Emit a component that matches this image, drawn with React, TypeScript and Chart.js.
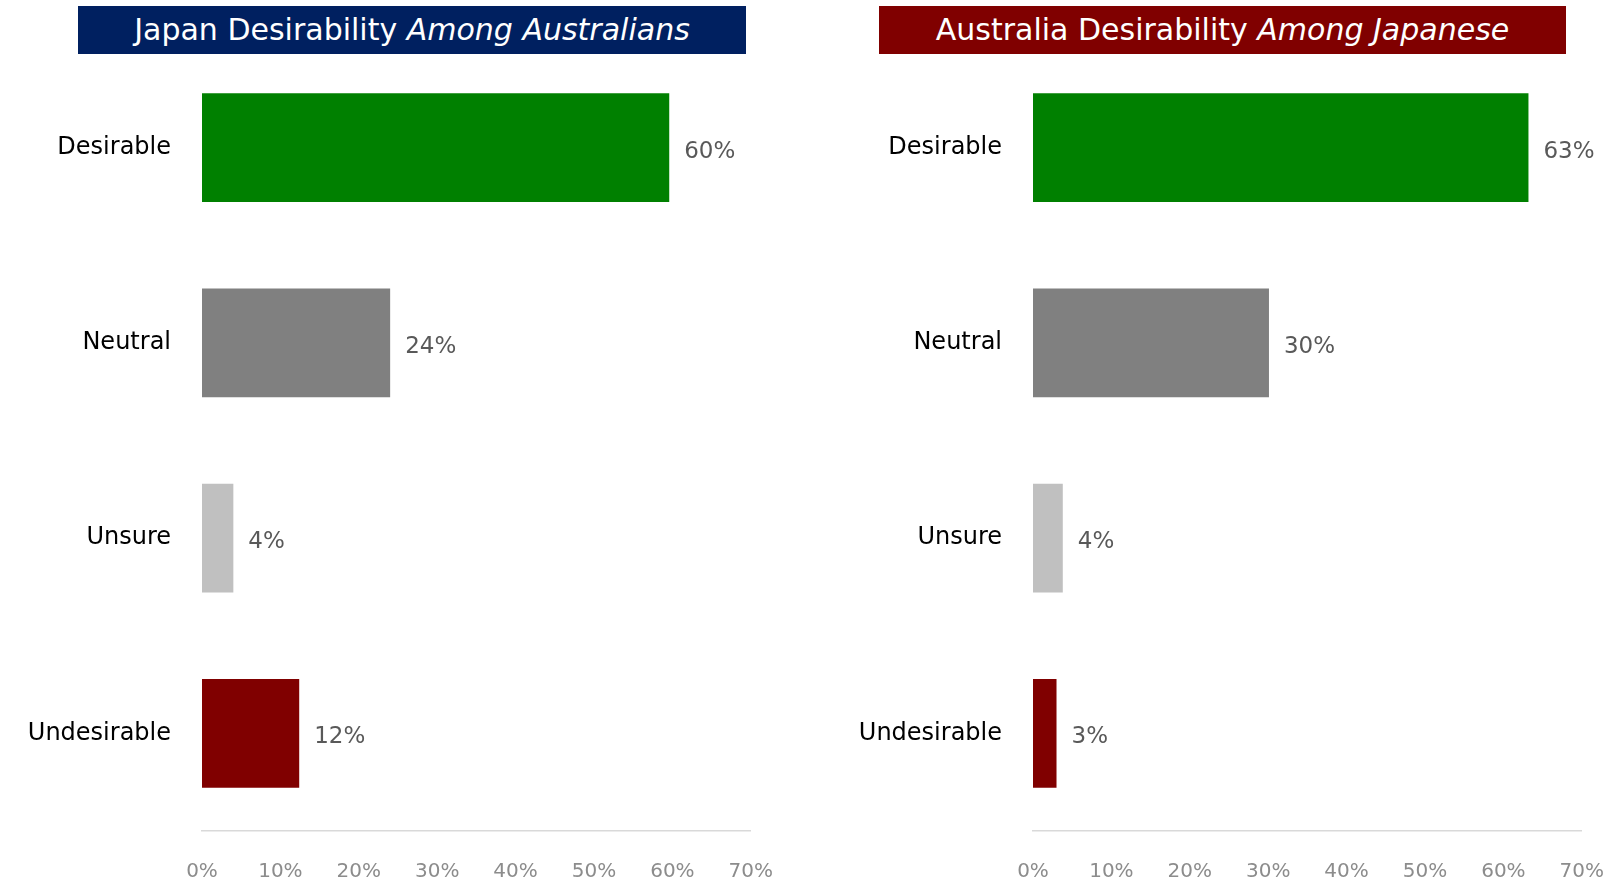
import React, { useEffect, useRef } from "react";
import { Chart, registerables } from "chart.js";

Chart.register(...registerables);

const categories = ["Desirable", "Neutral", "Unsure", "Undesirable"];
const japanAmongAustralians = [59.6, 24, 4, 12.4];
const australiaAmongJapanese = [63.2, 30.1, 3.8, 3.0];
const barColors = ["#008000", "#808080", "#c0c0c0", "#800000"];
const xTicks = [0, 10, 20, 30, 40, 50, 60, 70];

const FONT = "'DejaVu Sans', 'Open Sans', sans-serif";

const valueLabelPlugin = {
  id: "valueLabels",
  afterDatasetsDraw(chart: any) {
    const ctx = chart.ctx;
    const meta = chart.getDatasetMeta(0);
    const data = chart.data.datasets[0].data as number[];
    ctx.save();
    ctx.fillStyle = "#595959";
    ctx.font = `23px ${FONT}`;
    ctx.textAlign = "left";
    ctx.textBaseline = "middle";
    meta.data.forEach((el: any, i: number) => {
      ctx.fillText(Math.round(data[i]) + "%", el.x + 15, el.y + 4);
    });
    ctx.restore();
  },
};

function BarPanel(props: {
  values: number[];
  left: number;
  width: number;
  axisWidth: number;
  title: React.ReactNode;
  titleBg: string;
  titleLeft: number;
  titleWidth: number;
}) {
  const ref = useRef<HTMLCanvasElement | null>(null);
  useEffect(() => {
    if (!ref.current) return;
    const chart = new Chart(ref.current, {
      type: "bar",
      data: {
        labels: categories,
        datasets: [
          {
            data: props.values,
            backgroundColor: barColors,
            barPercentage: 0.9,
            categoryPercentage: 0.62,
          },
        ],
      },
      options: {
        indexAxis: "y",
        animation: false,
        responsive: false,
        maintainAspectRatio: false,
        layout: { padding: { top: 50, right: 0, bottom: 0, left: 0 } },
        plugins: { legend: { display: false }, tooltip: { enabled: false } },
        scales: {
          x: {
            min: 0,
            max: 70,
            afterBuildTicks(scale: any) {
              scale.ticks = xTicks.map((v) => ({ value: v }));
            },
            afterFit(scale: any) {
              scale.height = 51;
            },
            grid: { display: false, drawTicks: false },
            border: { display: true, color: "#d9d9d9", width: 1.5 },
            ticks: {
              padding: 29,
              color: "#8c8c8c",
              font: { family: FONT, size: 20 },
              callback: (v: any) => v + "%",
            },
          },
          y: {
            afterFit(scale: any) {
              scale.width = props.axisWidth;
            },
            grid: { display: false, drawTicks: false },
            border: { display: false },
            ticks: {
              padding: 31,
              color: "#000000",
              font: { family: FONT, size: 24 },
            },
          },
        },
      },
      plugins: [valueLabelPlugin],
    });
    return () => chart.destroy();
  }, []);
  return (
    <>
      <canvas
        ref={ref}
        width={props.width}
        height={882}
        style={{ position: "absolute", left: props.left, top: 0, width: props.width, height: 882 }}
      />
      <div
        style={{
          position: "absolute",
          left: props.titleLeft,
          top: 6,
          width: props.titleWidth,
          height: 48,
          background: props.titleBg,
          color: "#ffffff",
          fontFamily: FONT,
          fontSize: 30,
          lineHeight: "48px",
          textAlign: "center",
          whiteSpace: "nowrap",
        }}
      >
        {props.title}
      </div>
    </>
  );
}

export default function App() {
  return (
    <div
      style={{
        position: "fixed",
        left: 0,
        top: 0,
        width: 1607,
        height: 882,
        background: "#ffffff",
        overflow: "hidden",
      }}
    >
      <BarPanel
        values={japanAmongAustralians}
        left={0}
        width={802}
        axisWidth={202}
        titleBg="#002060"
        titleLeft={78}
        titleWidth={668}
        title={
          <>
            Japan Desirability <i>Among Australians</i>
          </>
        }
      />
      <BarPanel
        values={australiaAmongJapanese}
        left={810}
        width={823}
        axisWidth={223}
        titleBg="#800000"
        titleLeft={879}
        titleWidth={687}
        title={
          <>
            Australia Desirability <i>Among Japanese</i>
          </>
        }
      />
    </div>
  );
}
